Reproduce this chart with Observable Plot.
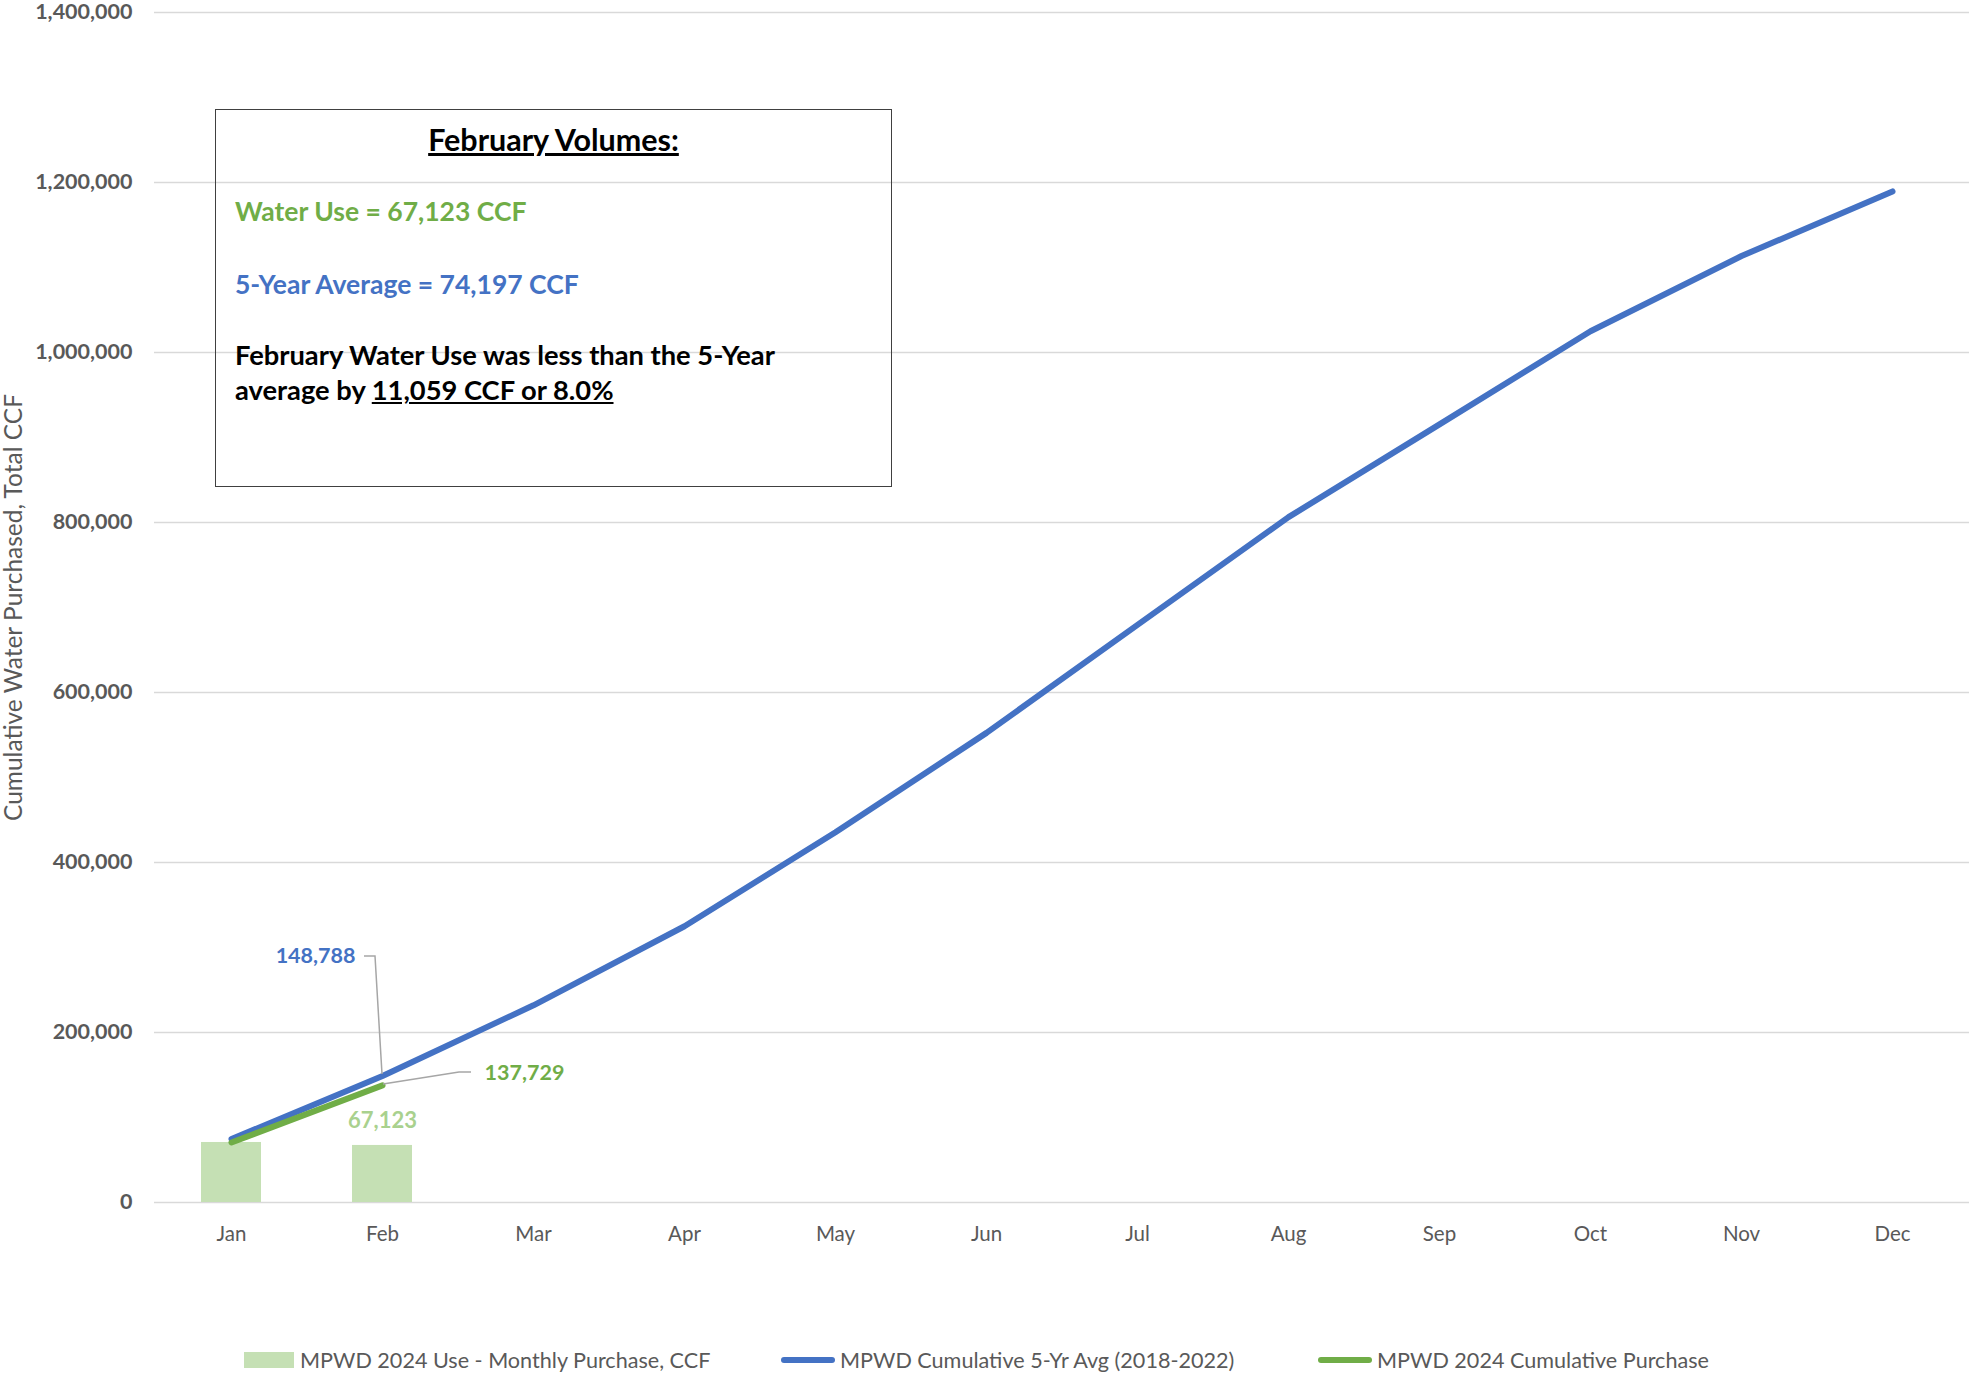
<!DOCTYPE html>
<html><head><meta charset="utf-8">
<script src="https://cdn.jsdelivr.net/npm/d3@7"></script>
<script src="https://cdn.jsdelivr.net/npm/@observablehq/plot@0.6"></script>
<style>
html,body{margin:0;padding:0;background:#fff;}
#wrap{position:relative;width:1969px;height:1375px;overflow:hidden;font-family:Lato,"Open Sans",sans-serif;}
#chart{position:absolute;left:0;top:0;}
#box{position:absolute;left:215px;top:109px;width:677px;height:378px;border:1.5px solid #404040;box-sizing:border-box;background:transparent;}
#box div{position:absolute;white-space:nowrap;font-weight:700;line-height:1;}
.legend-item{position:absolute;top:1348px;height:24px;display:flex;align-items:center;color:#595959;font-size:21.6px;white-space:nowrap;}
.sw-bar{width:50px;height:16px;margin-right:6px;}
.sw-line{width:54px;height:6px;border-radius:3px;margin-right:5px;}
</style>
</head><body>
<div id="wrap">
  <div id="chart"></div>
  <div id="box"></div>
  <div id="legend"></div>
</div>
<script>
// ---- data ----
const months = ["Jan","Feb","Mar","Apr","May","Jun","Jul","Aug","Sep","Oct","Nov","Dec"];
const monthlyUse2024 = [70606, 67123];            // MPWD 2024 Use - Monthly Purchase, CCF
const cumAvg5yr = [74591, 148788, 232000, 325000, 435500, 552500, 679500, 806300, 915500, 1025000, 1113500, 1189500];
const cum2024 = [70606, 137729];
const yTicks = [0, 200000, 400000, 600000, 800000, 1000000, 1200000, 1400000];
const yTitle = "Cumulative Water Purchased, Total CCF";
const seriesNames = ["MPWD 2024 Use - Monthly Purchase, CCF", "MPWD Cumulative 5-Yr Avg (2018-2022)", "MPWD 2024 Cumulative Purchase"];
const boxTitle = "February Volumes:";
const boxUse = "Water Use = 67,123 CCF";
const boxAvg = "5-Year Average = 74,197 CCF";
const boxLine1 = "February Water Use was less than the 5-Year";
const boxLine2a = "average by ";
const boxLine2b = "11,059 CCF or 8.0%";

const BLUE = "#4472C4", GREEN = "#70AD47", LIGHT = "#C5E0B4", LABEL_LIGHT = "#A9D18E", GRAY = "#595959";

const useData = monthlyUse2024.map((v, i) => ({month: months[i], value: v}));
const avgData = cumAvg5yr.map((v, i) => ({month: months[i], value: v}));
const cumData = cum2024.map((v, i) => ({month: months[i], value: v}));
const fmt = d3.format(",");

const lastAvg = avgData[cum2024.length - 1];
const lastCum = cumData[cumData.length - 1];
const lastUse = useData[useData.length - 1];

// leader lines drawn with the plot's own scales
function leaders(index, scales) {
  const sx = scales.x, sy = scales.y;
  const bw = typeof sx.bandwidth === "function" ? sx.bandwidth() : (sx.bandwidth || 0);
  const g = d3.create("svg:g").attr("fill", "none").attr("stroke", "#A6A6A6").attr("stroke-width", 1.5);
  const xa = sx(lastAvg.month) + bw / 2, ya = sy(lastAvg.value);
  g.append("path").attr("d", `M${xa},${ya - 1.5}L${xa - 7},${ya - 119.5}L${xa - 18},${ya - 119.5}`);
  const xc = sx(lastCum.month) + bw / 2, yc = sy(lastCum.value);
  g.append("path").attr("d", `M${xc + 1},${yc - 1}L${xc + 77},${yc - 13}L${xc + 89},${yc - 13}`);
  return g.node();
}

const chart = Plot.plot({
  width: 1969, height: 1320,
  marginLeft: 154, marginRight: 0, marginTop: 12, marginBottom: 118,
  style: {fontFamily: "Lato, 'Open Sans', sans-serif", background: "transparent", color: GRAY, overflow: "visible"},
  x: {type: "band", domain: months, paddingInner: 0.6, paddingOuter: 0.3, label: null},
  y: {domain: [0, 1400000], label: null},
  marks: [
    Plot.gridY(yTicks, {stroke: "#D9D9D9", strokeOpacity: 1, strokeWidth: 1.5}),
    Plot.barY(useData, {x: "month", y: "value", fill: LIGHT}),
    Plot.line(avgData, {x: "month", y: "value", stroke: BLUE, strokeWidth: 6, strokeLinecap: "round", strokeLinejoin: "round"}),
    Plot.line(cumData, {x: "month", y: "value", stroke: GREEN, strokeWidth: 6, strokeLinecap: "round", strokeLinejoin: "round"}),
    Plot.axisY(yTicks, {tickFormat: fmt, tickSize: 0, tickPadding: 22, fontSize: 21.5, fontWeight: "bold", fill: GRAY, label: null}),
    Plot.axisX({tickSize: 0, tickPadding: 24, fontSize: 20.5, fill: GRAY, label: null}),
    Plot.text([yTitle], {frameAnchor: "left", rotate: -90, dx: -140, textAnchor: "middle", lineAnchor: "middle", fontSize: 24.5, fill: GRAY}),
    leaders,
    Plot.text([lastAvg], {x: "month", y: "value", text: d => fmt(d.value), dx: -27, dy: -119.5, textAnchor: "end", fill: BLUE, fontWeight: "bold", fontSize: 21.5}),
    Plot.text([lastCum], {x: "month", y: "value", text: d => fmt(d.value), dx: 102, dy: -12, textAnchor: "start", fill: GREEN, fontWeight: "bold", fontSize: 21.5}),
    Plot.text([lastUse], {x: "month", y: "value", text: d => fmt(d.value), dy: -24, textAnchor: "middle", fill: LABEL_LIGHT, fontWeight: "bold", fontSize: 22})
  ]
});
document.getElementById("chart").appendChild(chart);

// annotation box
const box = document.getElementById("box");
function addLine(html, left, centerY, size, color, center) {
  const d = document.createElement("div");
  d.innerHTML = html;
  d.style.fontSize = size + "px";
  d.style.color = color;
  d.style.top = (centerY - 109 - size / 2) + "px";
  if (center) { d.style.left = "0"; d.style.width = "100%"; d.style.textAlign = "center"; }
  else d.style.left = (left - 215) + "px";
  box.appendChild(d);
}
addLine(`<u>${boxTitle}</u>`, 0, 138, 30.5, "#000", true);
addLine(boxUse, 234, 210, 26.5, GREEN);
addLine(boxAvg, 234, 283, 26.5, BLUE);
addLine(boxLine1, 234, 354, 27.3, "#000");
addLine(`${boxLine2a}<u>${boxLine2b}</u>`, 234, 389, 27.3, "#000");

// legend
const legend = document.getElementById("legend");
const items = [
  {name: seriesNames[0], left: 244, sw: "sw-bar", color: LIGHT},
  {name: seriesNames[1], left: 781, sw: "sw-line", color: BLUE},
  {name: seriesNames[2], left: 1318, sw: "sw-line", color: GREEN}
];
for (const it of items) {
  const d = document.createElement("div");
  d.className = "legend-item";
  d.style.left = it.left + "px";
  d.innerHTML = `<span class="${it.sw}" style="background:${it.color}"></span><span>${it.name}</span>`;
  legend.appendChild(d);
}
</script>
</body></html>
